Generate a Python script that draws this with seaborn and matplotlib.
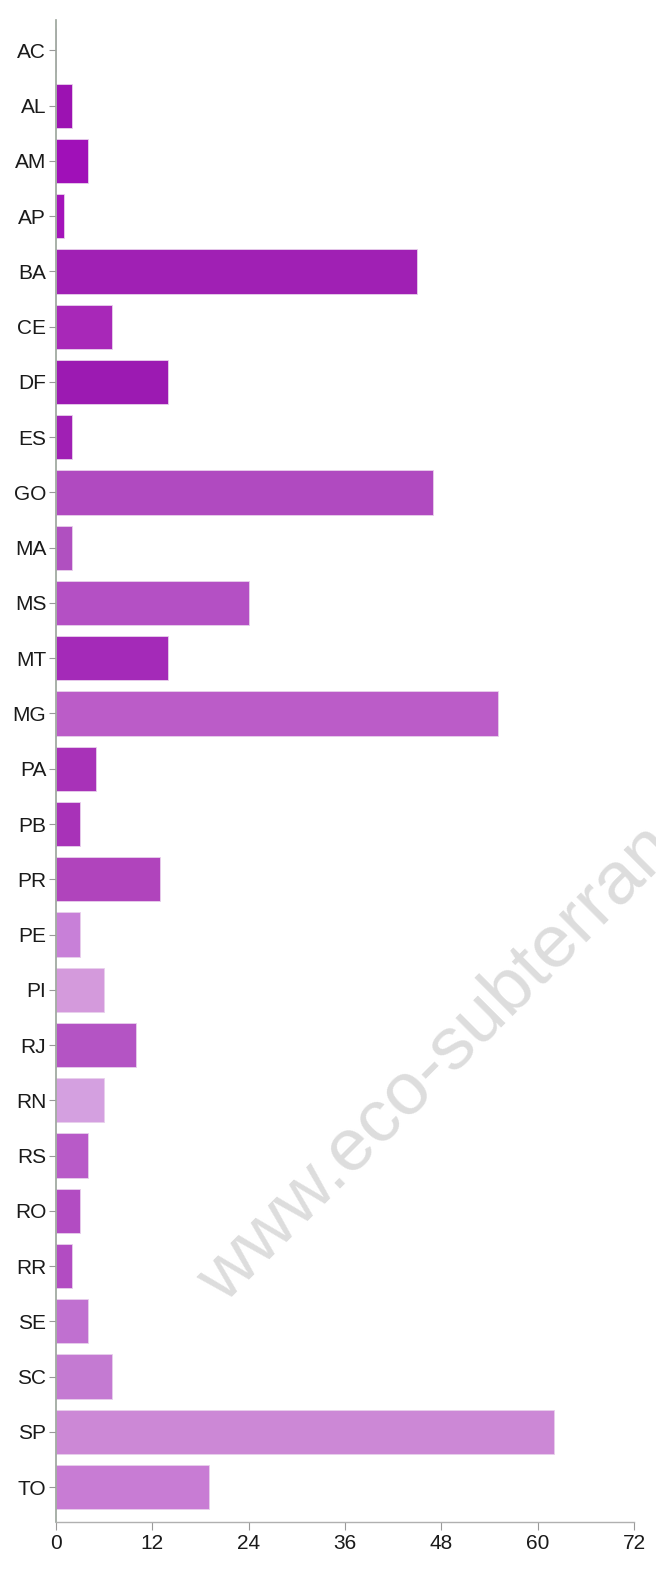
import matplotlib
matplotlib.use("Agg")
import matplotlib.pyplot as plt
import seaborn as sns
import pandas as pd

# dados por estado
estados = ['AC', 'AL', 'AM', 'AP', 'BA', 'CE', 'DF', 'ES', 'GO', 'MA', 'MS', 'MT', 'MG', 'PA',
           'PB', 'PR', 'PE', 'PI', 'RJ', 'RN', 'RS', 'RO', 'RR', 'SE', 'SC', 'SP', 'TO']
valores = [0, 2, 4, 1, 45, 7, 14, 2, 47, 2, 24, 14, 55, 5,
           3, 13, 3, 6, 10, 6, 4, 3, 2, 4, 7, 62, 19]
cores = ['#a020b4', '#9c12b2', '#a010b8', '#a414ba', '#a020b4', '#a828b8', '#9c1ab2', '#a020b4',
         '#b04ac0', '#b050c0', '#b450c4', '#a42ab8', '#bb5cc8', '#a832b8',
         '#a832b8', '#b044bc', '#c880d8', '#d49adc', '#b454c4', '#d4a0e0', '#b85ac8', '#b24cc2',
         '#b24cc2', '#c070d0', '#c47ad2', '#cc88d6', '#c87cd4']
xticks = [0, 12, 24, 36, 48, 60, 72]

df = pd.DataFrame({'estado': estados, 'valor': valores})

sns.set_style("white")
plt.rcParams['font.family'] = ['Liberation Sans', 'DejaVu Sans']

fig = plt.figure(figsize=(6.56, 15.75), dpi=100)
ax = fig.add_axes([0.0854, 0.0337, 0.881, 0.9536])

sns.barplot(data=df, y='estado', x='valor', hue='estado', palette=cores,
            orient='h', width=0.8, legend=False, ax=ax, saturation=1,
            edgecolor='#e8d0ec', linewidth=0.6)

ax.set_xlim(0, 72)
ax.set_ylim(26.63, -0.55)
ax.set_xticks(xticks)
ax.set_xlabel('')
ax.set_ylabel('')
ax.tick_params(axis='y', labelsize=15, length=5, width=0.8, color='#999999', pad=2,
               left=True, labelcolor='#1a1a1a')
ax.tick_params(axis='x', labelsize=15, length=6, width=0.8, color='#999999', pad=3,
               bottom=True, labelcolor='#1a1a1a')

sns.despine(ax=ax)
ax.spines['left'].set_color('#9aa39a')
ax.spines['bottom'].set_color('#b0b0b0')
ax.spines['left'].set_linewidth(1.2)
ax.spines['bottom'].set_linewidth(1.0)

# marca d'água (cortada na borda direita, como no original)
fig.text(0.846, 0.399, 'www.eco-subterranea.com.br', fontsize=54, color='#dddddd',
         rotation=45, ha='center', va='center', rotation_mode='anchor', zorder=0)

fig.savefig('out.png', dpi=100)
